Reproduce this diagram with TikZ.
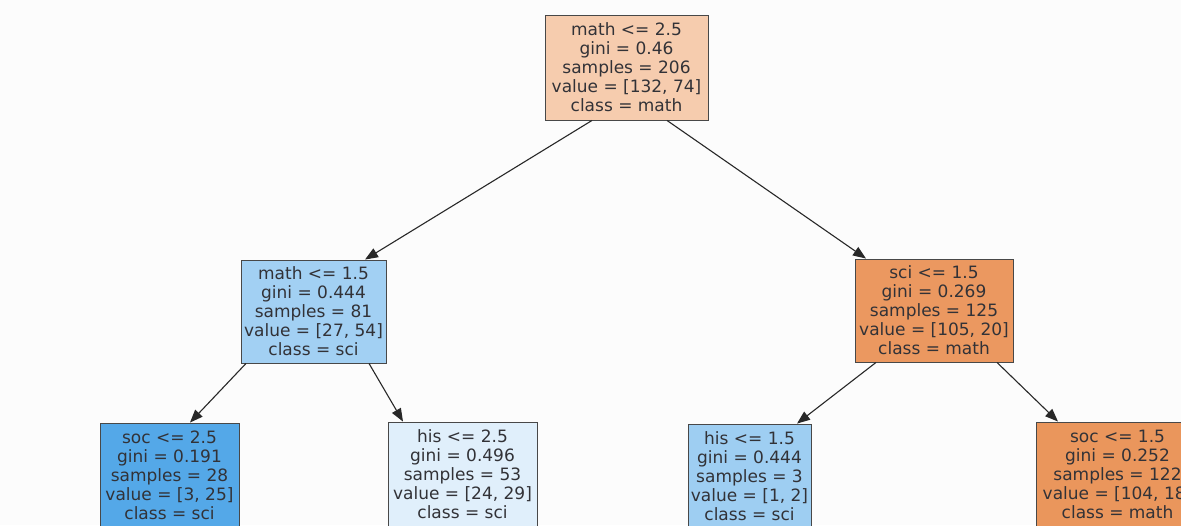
\documentclass[tikz,border=0pt]{standalone}
\usepackage{fontspec}
\setmainfont{DejaVu Sans}
\usetikzlibrary{arrows.meta}

\definecolor{inkc}{RGB}{50,50,55}
\definecolor{edgec}{RGB}{40,40,40}
\definecolor{c0}{RGB}{246,204,174}
\definecolor{c1}{RGB}{162,208,243}
\definecolor{c2}{RGB}{235,152,96}
\definecolor{c3}{RGB}{84,168,232}
\definecolor{c4}{RGB}{224,239,251}
\definecolor{c5}{RGB}{158,206,242}
\definecolor{c6}{RGB}{234,150,92}

\tikzset{
  treenode/.style={draw=edgec!85, line width=0.9pt, text=inkc, align=center,
    inner sep=0pt, minimum height=#1,
    font=\fontsize{17}{19}\selectfont},
  treenode/.default=105pt,
  arr/.style={draw=edgec, line width=1.1pt,
    -{Triangle[length=13pt,width=10pt]}}
}

\begin{document}
\begin{tikzpicture}[x=1pt,y=-1pt]
  \useasboundingbox (0,0) rectangle (1181,525);
  \clip (0,0) rectangle (1181,525);
  \fill[white!99!black] (0,0) rectangle (1181,525);

  % split nodes
  \node[treenode, fill=c0, minimum width=163pt] (root) at (626.5,67.5)
    {math <= 2.5\\gini = 0.46\\samples = 206\\value = [132, 74]\\class = math};
  \node[treenode=103pt, fill=c1, minimum width=145pt] (mB) at (313.5,311.5)
    {math <= 1.5\\gini = 0.444\\samples = 81\\value = [27, 54]\\class = sci};
  \node[treenode=103pt, fill=c2, minimum width=158pt] (sB) at (934,310.5)
    {sci <= 1.5\\gini = 0.269\\samples = 125\\value = [105, 20]\\class = math};
  \node[treenode, fill=c3, minimum width=139pt] (soA) at (169.5,475.5)
    {soc <= 2.5\\gini = 0.191\\samples = 28\\value = [3, 25]\\class = sci};
  \node[treenode, fill=c4, minimum width=149pt] (hiA) at (462.5,474.5)
    {his <= 2.5\\gini = 0.496\\samples = 53\\value = [24, 29]\\class = sci};
  \node[treenode, fill=c5, minimum width=123pt] (hiB) at (749.5,476.5)
    {his <= 1.5\\gini = 0.444\\samples = 3\\value = [1, 2]\\class = sci};
  \node[treenode, fill=c6, minimum width=163pt] (soB) at (1117.5,474.5)
    {soc <= 1.5\\gini = 0.252\\samples = 122\\value = [104, 18]\\class = math};

  % edges
  \draw[arr] ([xshift=-34.5pt]root.south) -- ([xshift=51.5pt]mB.north);
  \draw[arr] ([xshift=40.5pt]root.south) -- ([xshift=-68pt]sB.north);
  \draw[arr] ([xshift=-67.5pt]mB.south) -- ([xshift=20.5pt]soA.north);
  \draw[arr] ([xshift=55.5pt]mB.south) -- ([xshift=-59.5pt]hiA.north);
  \draw[arr] ([xshift=-58pt]sB.south) -- ([xshift=47.5pt]hiB.north);
  \draw[arr] ([xshift=63pt]sB.south) -- ([xshift=-59.5pt]soB.north);
\end{tikzpicture}
\end{document}
